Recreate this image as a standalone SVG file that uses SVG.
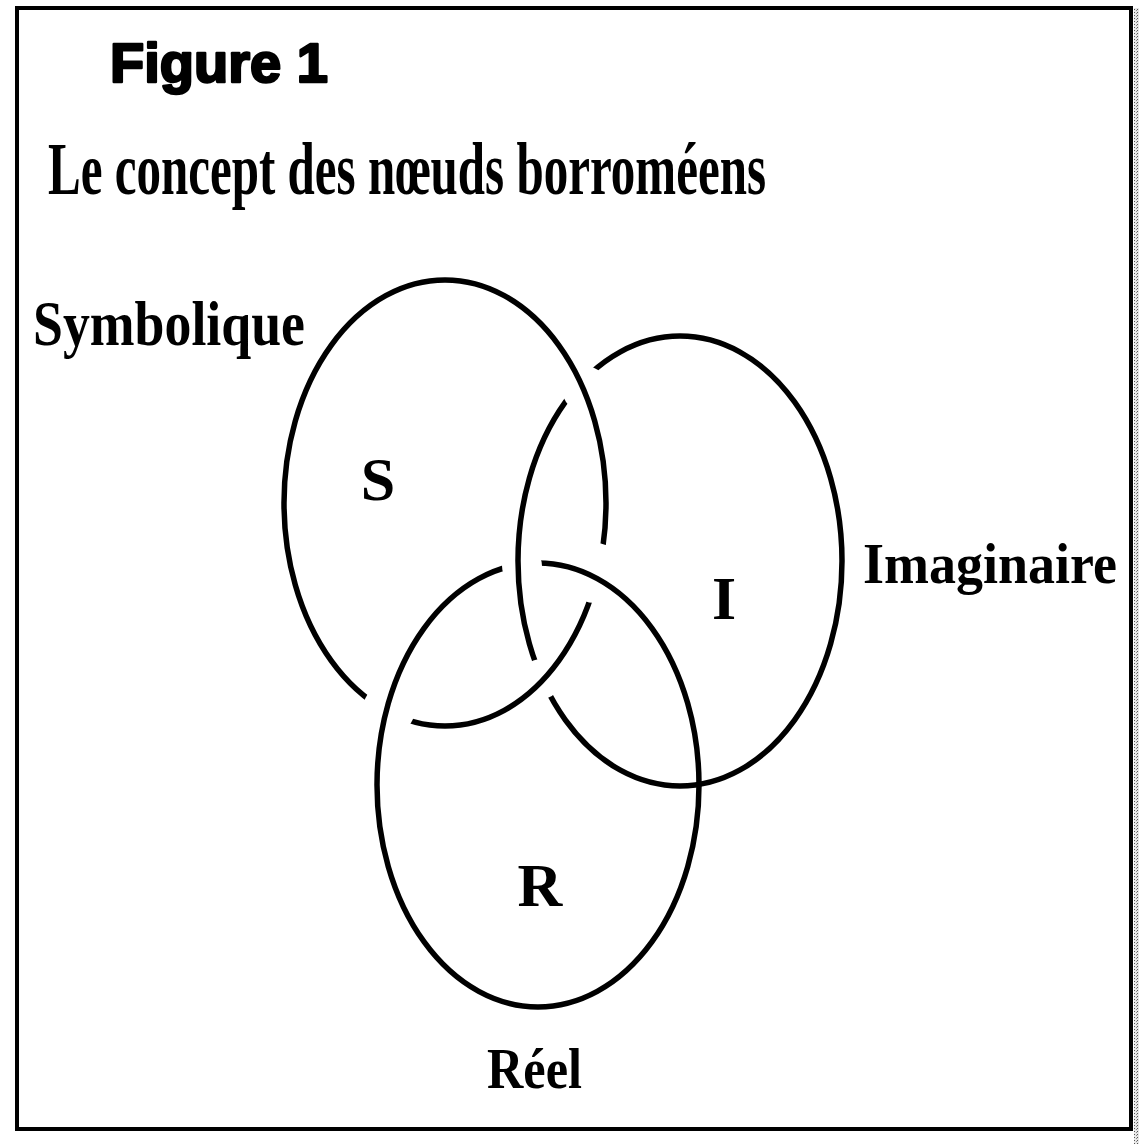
<svg xmlns="http://www.w3.org/2000/svg" width="1139" height="1144" viewBox="0 0 1139 1144">
  <defs>
    <style>
      .ring { fill: none; stroke: #000; stroke-width: 5.5; }
      .lbl { font-family: "Liberation Serif", "Times New Roman", serif; font-weight: bold; fill: #000; }
      .fig { font-family: "Liberation Sans", Arial, sans-serif; font-weight: 900; fill: #000; stroke: #000; stroke-width: 2.5; stroke-linejoin: round; }
    </style>
    <pattern id="stip" width="3" height="3" patternUnits="userSpaceOnUse">
      <rect width="3" height="3" fill="#e6e6e6"/>
      <rect width="1" height="1" fill="#555"/>
      <rect x="2" y="1" width="1" height="1" fill="#888"/>
    </pattern>
    <mask id="mS" maskUnits="userSpaceOnUse" x="0" y="0" width="1139" height="1144">
      <rect width="1139" height="1144" fill="#fff"/>
      <circle cx="389" cy="709" r="26" fill="#000"/>
      <circle cx="595" cy="573" r="30" fill="#000"/>
    </mask>
    <mask id="mI" maskUnits="userSpaceOnUse" x="0" y="0" width="1139" height="1144">
      <rect width="1139" height="1144" fill="#fff"/>
      <circle cx="585" cy="389" r="23" fill="#000"/>
      <circle cx="541" cy="679" r="20" fill="#000"/>
    </mask>
    <mask id="mR" maskUnits="userSpaceOnUse" x="0" y="0" width="1139" height="1144">
      <rect width="1139" height="1144" fill="#fff"/>
      <circle cx="522" cy="566" r="20" fill="#000"/>
    </mask>
  </defs>

  <rect width="1139" height="1144" fill="#fff"/>
  <rect x="1134" y="8" width="5" height="1136" fill="url(#stip)"/>
  <rect id="frame" x="17" y="8" width="1114" height="1121" fill="none" stroke="#000" stroke-width="4"/>

  <text id="figure-label" class="fig" x="110" y="82" font-size="56">Figure 1</text>
  <text id="title" class="lbl" x="48" y="194" font-size="74" textLength="718" lengthAdjust="spacingAndGlyphs">Le concept des nœuds borroméens</text>

  <g id="connectors">
    <ellipse id="ring-S" class="ring" cx="445" cy="503" rx="161" ry="223" mask="url(#mS)"/>
    <ellipse id="ring-I" class="ring" cx="680" cy="561" rx="162" ry="225" mask="url(#mI)"/>
    <ellipse id="ring-R" class="ring" cx="538" cy="785" rx="161" ry="222" mask="url(#mR)"/>
  </g>

  <g id="node-S">
    <text class="lbl" x="33" y="345" font-size="63" textLength="272" lengthAdjust="spacingAndGlyphs">Symbolique</text>
    <text class="lbl" x="378" y="500" font-size="62" text-anchor="middle">S</text>
  </g>
  <g id="node-I">
    <text class="lbl" x="863" y="583" font-size="58" textLength="254" lengthAdjust="spacingAndGlyphs">Imaginaire</text>
    <text class="lbl" x="724" y="619" font-size="62" text-anchor="middle">I</text>
  </g>
  <g id="node-R">
    <text class="lbl" x="487" y="1088" font-size="58" textLength="95" lengthAdjust="spacingAndGlyphs">Réel</text>
    <text class="lbl" x="540" y="906" font-size="62" text-anchor="middle">R</text>
  </g>
</svg>
